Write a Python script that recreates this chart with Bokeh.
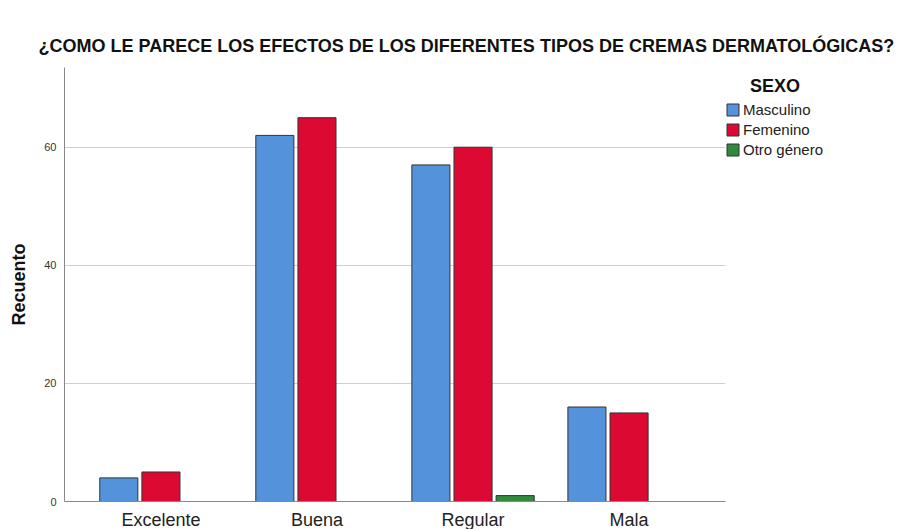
from bokeh.plotting import figure
from bokeh.models import ColumnDataSource, FactorRange, Range1d, FixedTicker, Legend, LegendItem
from bokeh.transform import dodge
from bokeh.embed import file_html
from bokeh.resources import INLINE

categories = ["Excelente", "Buena", "Regular", "Mala"]
masculino = [4, 62, 57, 16]
femenino = [5, 65, 60, 15]
otro = [0, 0, 1, 0]
series_names = ["Masculino", "Femenino", "Otro género"]
y_ticks = [0, 20, 40, 60]

colors = ["#5592DC", "#DC0A32", "#2E8B3C"]
FONT = "Liberation Sans"

source = ColumnDataSource(dict(cat=categories, m=masculino, f=femenino, o=otro))

p = figure(
    x_range=FactorRange(factors=categories, range_padding=0.118, range_padding_units="absolute"),
    y_range=Range1d(0, 73.5),
    frame_width=661, frame_height=434,
    min_border_left=64, min_border_top=67, min_border_right=180, min_border_bottom=18,
    output_backend="svg", toolbar_location=None,
    title="¿COMO LE PARECE LOS EFECTOS DE LOS DIFERENTES TIPOS DE CREMAS DERMATOLÓGICAS?",
)
p.outline_line_color = None
p.background_fill_color = "white"
p.border_fill_color = "white"

p.title.text_font = FONT
p.title.text_font_size = "18px"
p.title.text_font_style = "bold"
p.title.text_color = "#111111"
p.title.align = "left"
p.title.offset = -26
p.title.standoff = 24

offsets = [-0.27, 0.0, 0.27]
fields = ["m", "f", "o"]
renderers = []
for fld, off, col in zip(fields, offsets, colors):
    r = p.vbar(x=dodge("cat", off, range=p.x_range), top=fld, width=0.244, source=source,
               fill_color=col, line_color="#333333", line_width=1)
    renderers.append(r)

# axes
p.xaxis.major_tick_line_color = None
p.xaxis.minor_tick_line_color = None
p.xaxis.axis_line_color = "#888888"
p.xaxis.major_label_text_font = FONT
p.xaxis.major_label_text_font_size = "18px"
p.xaxis.major_label_text_color = "#222222"
p.xaxis.major_label_standoff = 2

p.yaxis.ticker = FixedTicker(ticks=y_ticks)
p.yaxis.major_tick_out = 0
p.yaxis.major_tick_in = 0
p.yaxis.minor_tick_line_color = None
p.yaxis.axis_line_color = "#888888"
p.yaxis.major_label_text_font = FONT
p.yaxis.major_label_text_font_size = "11px"
p.yaxis.major_label_text_color = "#333333"
p.yaxis.major_label_standoff = 8
p.yaxis.axis_label = "Recuento"
p.yaxis.axis_label_text_font = FONT
p.yaxis.axis_label_text_font_size = "18px"
p.yaxis.axis_label_text_font_style = "bold"
p.yaxis.axis_label_text_color = "#111111"
p.yaxis.axis_label_standoff = 12

p.xgrid.grid_line_color = None
p.ygrid.grid_line_color = "#CFCFCF"
p.ygrid.ticker = FixedTicker(ticks=[20, 40, 60])

legend = Legend(
    items=[LegendItem(label=n, renderers=[r]) for n, r in zip(series_names, renderers)],
    location=(0, 343),
    title="\u00a0\u00a0\u00a0\u00a0\u00a0SEXO",
    title_text_font=FONT, title_text_font_size="18px", title_text_font_style="bold",
    title_text_color="#111111", title_standoff=4,
    label_text_font=FONT, label_text_font_size="15px", label_text_color="#222222",
    glyph_width=15, glyph_height=15, label_standoff=3, spacing=3,
    padding=0, margin=0, border_line_color=None, background_fill_alpha=0,
    label_height=15,
)
p.add_layout(legend, "right")

open("out.html", "w").write(file_html(p, INLINE))
